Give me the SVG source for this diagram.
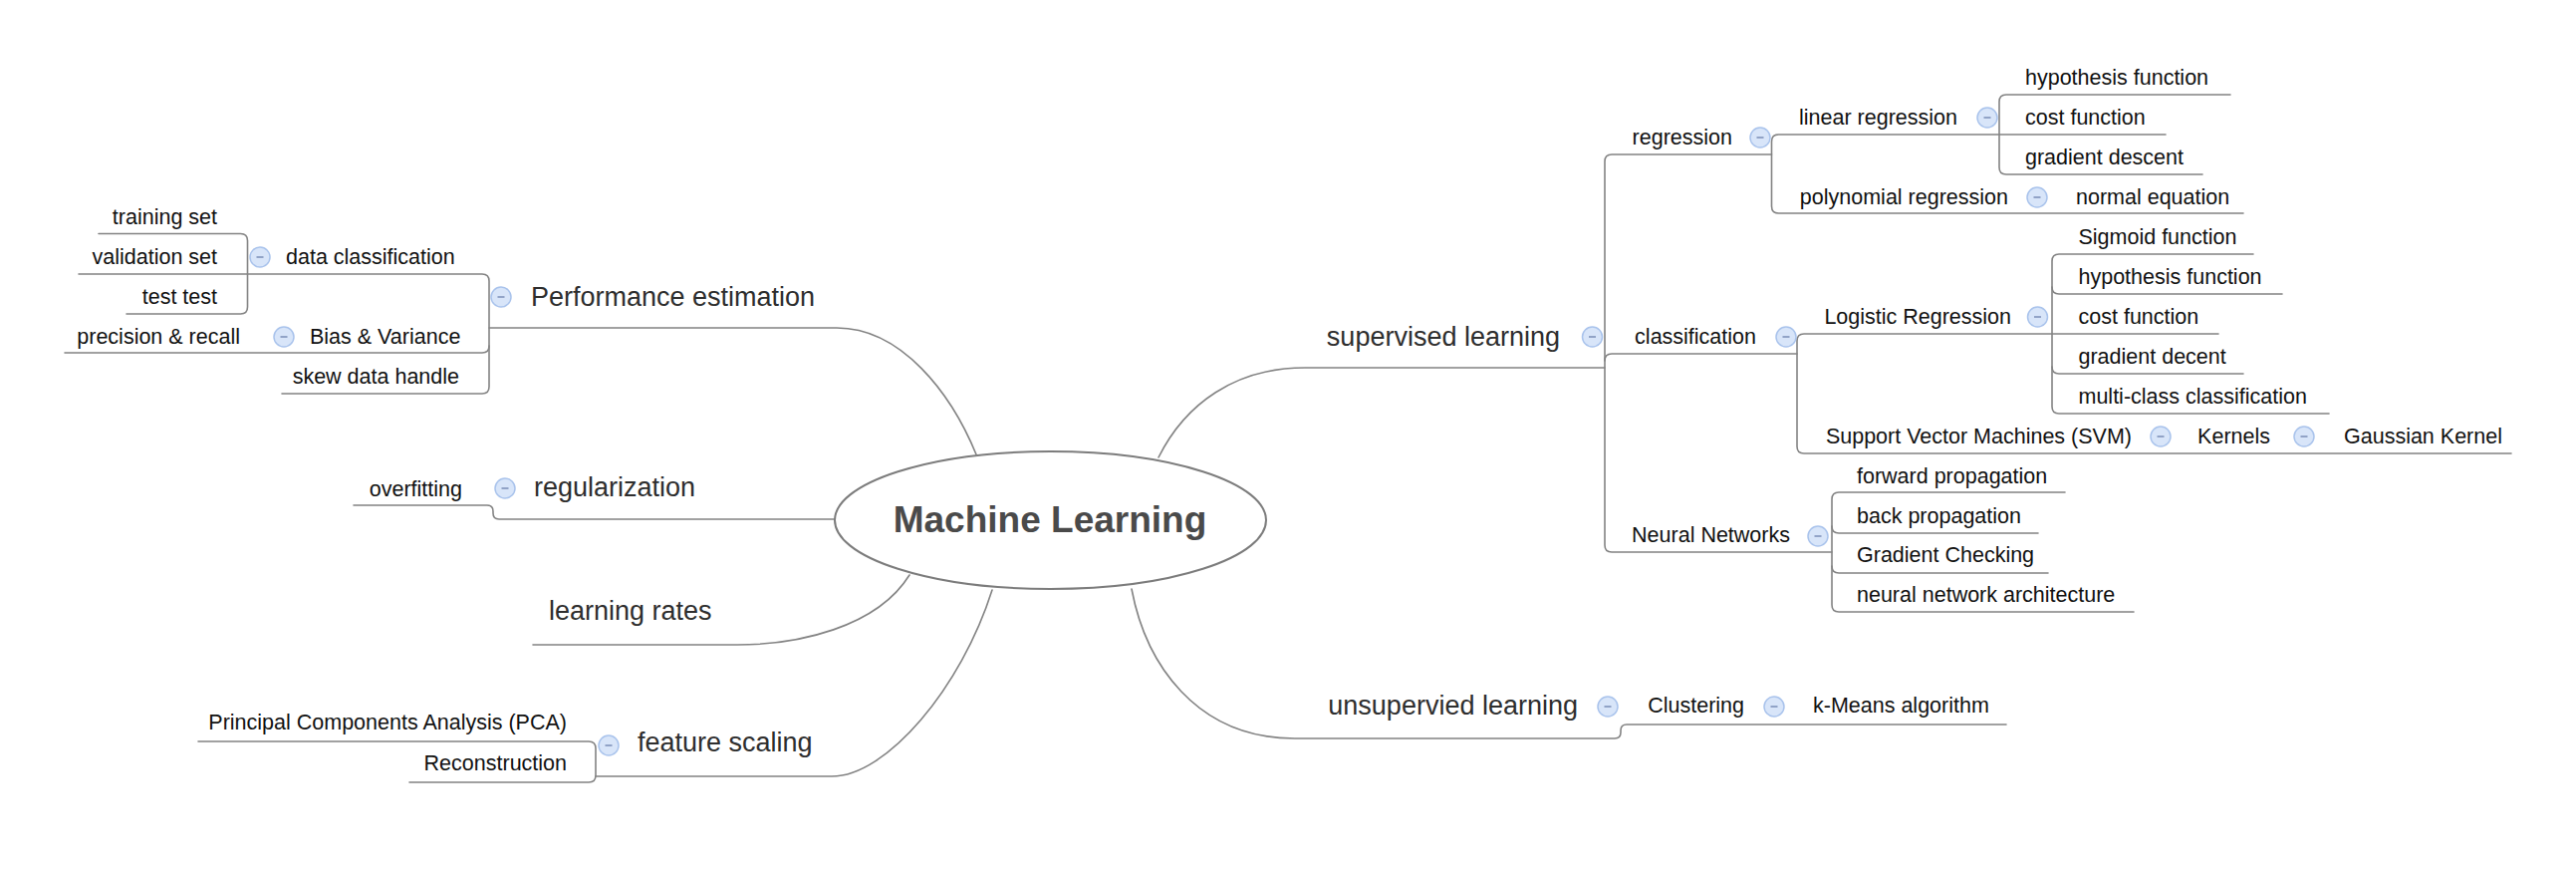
<svg xmlns="http://www.w3.org/2000/svg" width="2586" height="874" viewBox="0 0 2586 874">
<style>
.bg{fill:#ffffff}
.ln{fill:none;stroke:#838383;stroke-width:1.6;stroke-linecap:round;stroke-linejoin:round}
.s{font-family:"Liberation Sans",Arial,sans-serif;font-size:21.5px;fill:#111111}
.m{font-family:"Liberation Sans",Arial,sans-serif;font-size:27px;fill:#2e2e2e}
.c{font-family:"Liberation Sans",Arial,sans-serif;font-size:37px;font-weight:bold;fill:#4a4a4a}
.e{text-anchor:end}
</style>
<defs>
<g id="minus"><circle cx="0" cy="0" r="10" fill="#d8e5f9" stroke="#a9c3ec" stroke-width="1.5"/><line x1="-3.5" y1="0" x2="3.5" y2="0" stroke="#8093bb" stroke-width="1.6"/></g>
</defs>
<rect class="bg" x="0" y="0" width="2586" height="874"/>
<g id="connectors">
<path class="ln" d="M491 329 H840 C905 329 955 395 980 456"/>
<path class="ln" d="M79 275 H484 Q491 275 491 282 V388 Q491 395 484 395 H283"/>
<path class="ln" d="M65 354 H484 Q491 354 491 347"/>
<path class="ln" d="M99 234.5 H241.5 Q248.5 234.5 248.5 241.5 V308 Q248.5 315 241.5 315 H127"/>
<path class="ln" d="M838 521 H501 Q495 521 495 515 V513 Q495 507 489 507 H355"/>
<path class="ln" d="M535 647 H740 C800 647 880 630 913 577"/>
<path class="ln" d="M598 779 H835 C890 779 965 690 996 592"/>
<path class="ln" d="M199 744 H591 Q598 744 598 751 V778 Q598 785 591 785 H411"/>
<path class="ln" d="M1163 459 C1190 405 1240 369 1310 369 H1611"/>
<path class="ln" d="M1778.5 155 H1618 Q1611 155 1611 162 V547 Q1611 554 1618 554 H1839"/>
<path class="ln" d="M1611 362 Q1611 355 1618 355 H1804"/>
<path class="ln" d="M2174 135 H1785.5 Q1778.5 135 1778.5 142 V207 Q1778.5 214 1785.5 214 H2252"/>
<path class="ln" d="M2239 95 H2014 Q2007 95 2007 102 V168 Q2007 175 2014 175 H2211"/>
<path class="ln" d="M2227 335 H1811 Q1804 335 1804 342 V448 Q1804 455 1811 455 H2521"/>
<path class="ln" d="M2262 255 H2067 Q2060 255 2060 262 V408 Q2060 415 2067 415 H2338"/>
<path class="ln" d="M2060 288 Q2060 295 2067 295 H2291"/>
<path class="ln" d="M2060 368 Q2060 375 2067 375 H2252"/>
<path class="ln" d="M2073 494 H1846 Q1839 494 1839 501 V607 Q1839 614 1846 614 H2142"/>
<path class="ln" d="M1839 528 Q1839 535 1846 535 H2046"/>
<path class="ln" d="M1839 568 Q1839 575 1846 575 H2056"/>
<path class="ln" d="M1136 591 C1150 665 1200 741 1300 741 H1621 Q1627 741 1627 735 V733 Q1627 727 1633 727 H2014"/>
</g>
<g id="n-central">
<ellipse cx="1054.5" cy="522" rx="216.5" ry="69" fill="#ffffff" stroke="#7c7c7c" stroke-width="2"/>
<text class="c" x="1054" y="534" text-anchor="middle">Machine Learning</text>
</g>
<g id="n-performance"><use href="#minus" x="503" y="298"/><text class="m" x="533" y="306.5">Performance estimation</text></g>
<g id="n-dataclass"><use href="#minus" x="261" y="258"/><text class="s" x="287" y="264.5">data classification</text></g>
<g id="n-training"><text class="s e" x="218" y="224.5">training set</text></g>
<g id="n-validation"><text class="s e" x="218" y="264.5">validation set</text></g>
<g id="n-testtest"><text class="s e" x="218" y="304.5">test test</text></g>
<g id="n-bias"><use href="#minus" x="285" y="338"/><text class="s" x="311" y="344.5">Bias &amp; Variance</text></g>
<g id="n-precision"><text class="s e" x="241" y="344.5">precision &amp; recall</text></g>
<g id="n-skew"><text class="s e" x="461" y="384.5">skew data handle</text></g>
<g id="n-regularization"><use href="#minus" x="507" y="490"/><text class="m" x="536" y="497.5">regularization</text></g>
<g id="n-overfitting"><text class="s e" x="464" y="497.5">overfitting</text></g>
<g id="n-learningrates"><text class="m" x="551" y="621.5">learning rates</text></g>
<g id="n-featurescaling"><use href="#minus" x="611" y="748"/><text class="m" x="640" y="753.5">feature scaling</text></g>
<g id="n-pca"><text class="s e" x="569" y="731.5">Principal Components Analysis (PCA)</text></g>
<g id="n-reconstruction"><text class="s e" x="569" y="772.5">Reconstruction</text></g>
<g id="n-supervised"><use href="#minus" x="1598.5" y="338"/><text class="m e" x="1566" y="346.5">supervised learning</text></g>
<g id="n-regression"><use href="#minus" x="1767" y="138"/><text class="s e" x="1739" y="144.5">regression</text></g>
<g id="n-linreg"><use href="#minus" x="1995" y="118"/><text class="s e" x="1965" y="124.5">linear regression</text></g>
<g id="n-hyp1"><text class="s" x="2033" y="84.5">hypothesis function</text></g>
<g id="n-cost1"><text class="s" x="2033" y="124.5">cost function</text></g>
<g id="n-gd1"><text class="s" x="2033" y="164.5">gradient descent</text></g>
<g id="n-polyreg"><use href="#minus" x="2045" y="198"/><text class="s e" x="2016" y="204.5">polynomial regression</text></g>
<g id="n-normal"><text class="s" x="2084" y="204.5">normal equation</text></g>
<g id="n-classification"><use href="#minus" x="1793" y="338"/><text class="s e" x="1763" y="344.5">classification</text></g>
<g id="n-logreg"><use href="#minus" x="2045.5" y="318"/><text class="s e" x="2019" y="324.5">Logistic Regression</text></g>
<g id="n-sigmoid"><text class="s" x="2086.5" y="244.5">Sigmoid function</text></g>
<g id="n-hyp2"><text class="s" x="2086.5" y="284.5">hypothesis function</text></g>
<g id="n-cost2"><text class="s" x="2086.5" y="324.5">cost function</text></g>
<g id="n-gd2"><text class="s" x="2086.5" y="364.5">gradient decent</text></g>
<g id="n-multiclass"><text class="s" x="2086.5" y="404.5">multi-class classification</text></g>
<g id="n-svm"><use href="#minus" x="2169" y="438"/><text class="s e" x="2140" y="444.5">Support Vector Machines (SVM)</text></g>
<g id="n-kernels"><use href="#minus" x="2313" y="438"/><text class="s e" x="2279" y="444.5">Kernels</text></g>
<g id="n-gaussian"><text class="s" x="2353" y="444.5">Gaussian Kernel</text></g>
<g id="n-nn"><use href="#minus" x="1825" y="538"/><text class="s e" x="1797" y="543.5">Neural Networks</text></g>
<g id="n-forward"><text class="s" x="1864" y="484.5">forward propagation</text></g>
<g id="n-back"><text class="s" x="1864" y="524.5">back propagation</text></g>
<g id="n-gradcheck"><text class="s" x="1864" y="563.5">Gradient Checking</text></g>
<g id="n-nnarch"><text class="s" x="1864" y="603.5">neural network architecture</text></g>
<g id="n-unsupervised"><use href="#minus" x="1614" y="709"/><text class="m e" x="1584" y="716.5">unsupervied learning</text></g>
<g id="n-clustering"><use href="#minus" x="1781" y="709"/><text class="s e" x="1751" y="714.5">Clustering</text></g>
<g id="n-kmeans"><text class="s" x="1820" y="714.5">k-Means algorithm</text></g>
</svg>
